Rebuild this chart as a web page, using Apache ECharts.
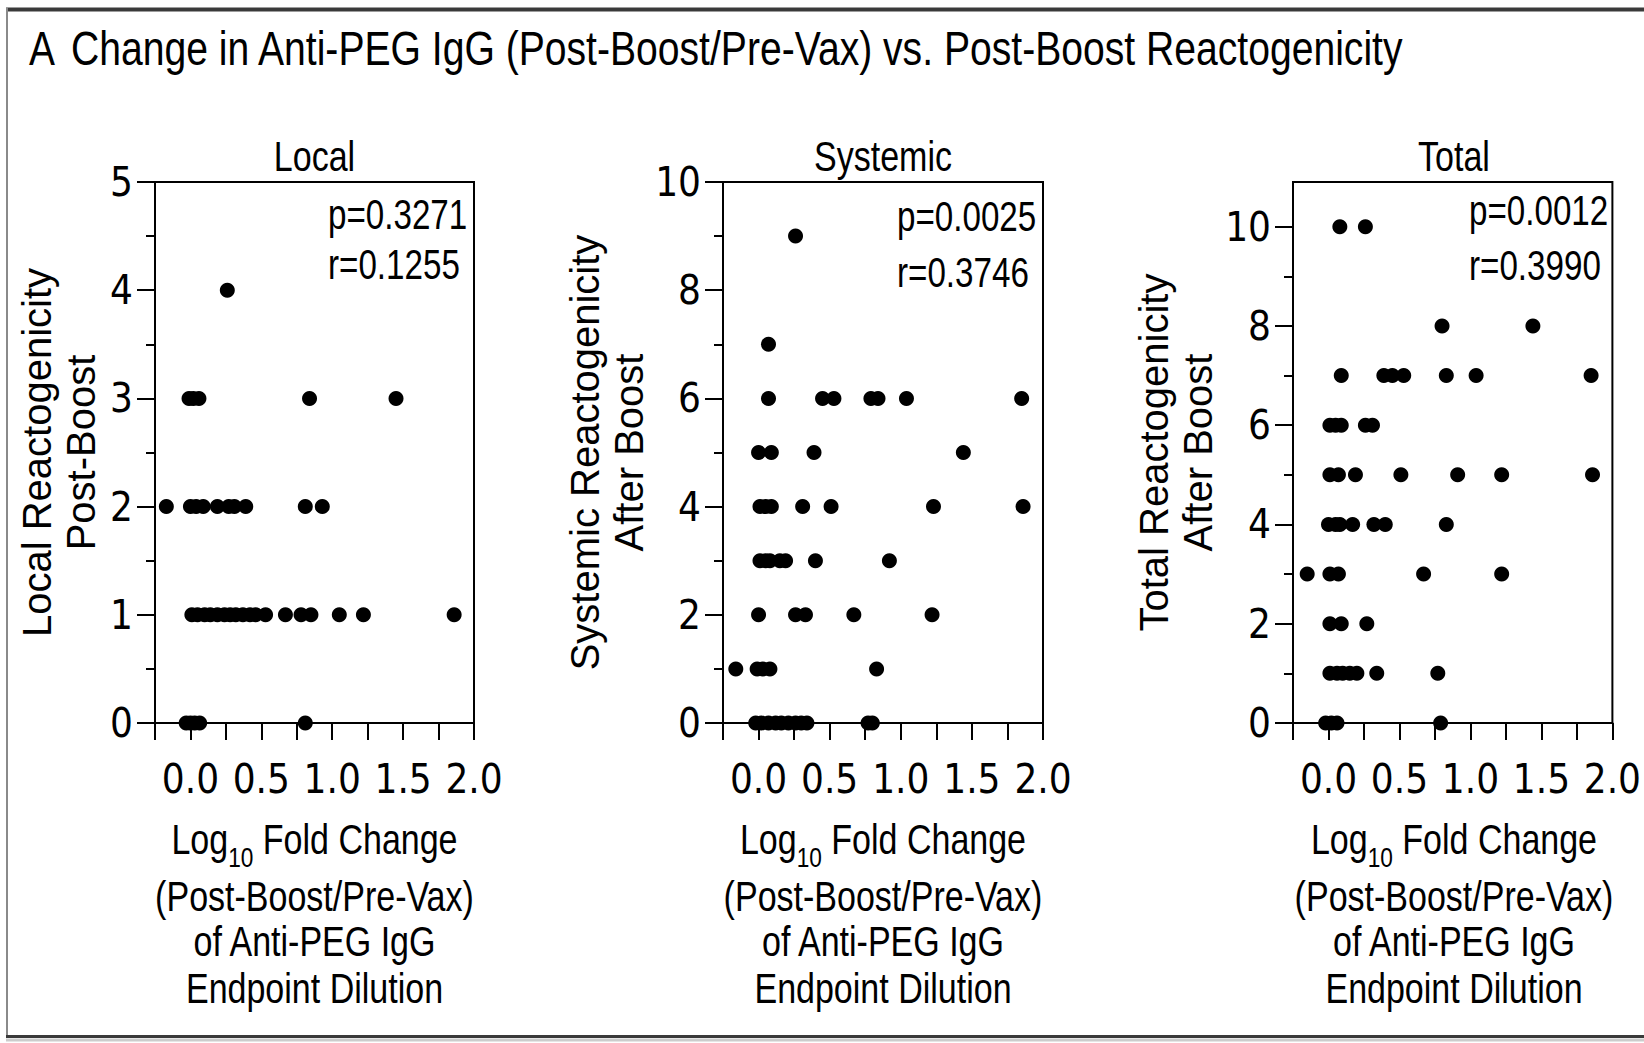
<!DOCTYPE html>
<html>
<head>
<meta charset="utf-8">
<script src="https://cdn.jsdelivr.net/npm/echarts@6/dist/echarts.min.js"></script>
<style>
html, body { margin: 0; padding: 0; background: #fff; }
#chart { width: 1644px; height: 1043px; }
</style>
</head>
<body>
<div id="chart"></div>
<script>
// ---------------- data ----------------
const figureLetter = 'A';
const figureTitle = 'Change in Anti-PEG IgG (Post-Boost/Pre-Vax) vs. Post-Boost Reactogenicity';
const panelTitles = ['Local', 'Systemic', 'Total'];
const yAxisNames = ['Local Reactogenicity\nPost-Boost', 'Systemic Reactogenicity\nAfter Boost', 'Total Reactogenicity\nAfter Boost'];
const xNameHead = 'Log';
const xNameSub = '10';
const xNameTail = ' Fold Change';
const xNameLines = ['(Post-Boost/Pre-Vax)', 'of Anti-PEG IgG', 'Endpoint Dilution'];
const pLabels = ['p=0.3271', 'p=0.0025', 'p=0.0012'];
const rLabels = ['r=0.1255', 'r=0.3746', 'r=0.3990'];

const xTickValues = [0, 0.5, 1, 1.5, 2];
const xTickLabels = ['0.0', '0.5', '1.0', '1.5', '2.0'];

const localYMax = 5;
const localYMajor = [0, 1, 2, 3, 4, 5];
const localYMinor = [0.5, 1.5, 2.5, 3.5, 4.5];
const systemicYMax = 10;
const systemicYMajor = [0, 2, 4, 6, 8, 10];
const systemicYMinor = [1, 3, 5, 7, 9];
const totalYMax = 10.9;
const totalYMajor = [0, 2, 4, 6, 8, 10];
const totalYMinor = [1, 3, 5, 7, 9];

// Local reactogenicity (x = log10 fold change, y = score)
const localX = [
  0.26,
  -0.01, 0.02, 0.06, 0.84, 1.45,
  -0.17, 0.00, 0.04, 0.09, 0.19, 0.27, 0.31, 0.39, 0.81, 0.93,
  0.01, 0.05, 0.10, 0.14, 0.19, 0.24, 0.28, 0.32, 0.37, 0.42, 0.46, 0.53, 0.67, 0.78, 0.85, 1.05, 1.22, 1.86,
  -0.03, 0.00, 0.03, 0.065, 0.81
];
const localY = [
  4,
  3, 3, 3, 3, 3,
  2, 2, 2, 2, 2, 2, 2, 2, 2, 2,
  1, 1, 1, 1, 1, 1, 1, 1, 1, 1, 1, 1, 1, 1, 1, 1, 1, 1,
  0, 0, 0, 0, 0
];

// Systemic reactogenicity
const systemicX = [
  0.26,
  0.07,
  0.07, 0.45, 0.53, 0.79, 0.84, 1.04, 1.85,
  0.00, 0.09, 0.39, 1.44,
  0.01, 0.05, 0.09, 0.31, 0.51, 1.23, 1.86,
  0.01, 0.05, 0.08, 0.15, 0.19, 0.40, 0.92,
  0.00, 0.26, 0.33, 0.67, 1.22,
  -0.16, -0.01, 0.03, 0.08, 0.83,
  -0.02, 0.02, 0.07, 0.12, 0.16, 0.21, 0.26, 0.30, 0.34, 0.77, 0.80
];
const systemicY = [
  9,
  7,
  6, 6, 6, 6, 6, 6, 6,
  5, 5, 5, 5,
  4, 4, 4, 4, 4, 4, 4,
  3, 3, 3, 3, 3, 3, 3,
  2, 2, 2, 2, 2,
  1, 1, 1, 1, 1,
  0, 0, 0, 0, 0, 0, 0, 0, 0, 0, 0
];

// Total reactogenicity
const totalX = [
  0.08, 0.26,
  0.80, 1.44,
  0.09, 0.39, 0.45, 0.53, 0.83, 1.04, 1.85,
  0.01, 0.05, 0.09, 0.26, 0.31,
  0.01, 0.07, 0.19, 0.51, 0.91, 1.22, 1.86,
  0.00, 0.05, 0.08, 0.17, 0.32, 0.40, 0.83,
  -0.15, 0.01, 0.07, 0.67, 1.22,
  0.01, 0.09, 0.27,
  0.01, 0.06, 0.10, 0.15, 0.20, 0.34, 0.77,
  -0.02, 0.02, 0.06, 0.79
];
const totalY = [
  10, 10,
  8, 8,
  7, 7, 7, 7, 7, 7, 7,
  6, 6, 6, 6, 6,
  5, 5, 5, 5, 5, 5, 5,
  4, 4, 4, 4, 4, 4, 4,
  3, 3, 3, 3, 3,
  2, 2, 2,
  1, 1, 1, 1, 1, 1, 1,
  0, 0, 0, 0
];

// ---------------- layout / style ----------------
const TICK_FONT = '"DejaVu Sans Condensed", "Liberation Sans Narrow", sans-serif';
const TEXT_FAMILY = '"Liberation Sans", Arial, sans-serif';
const NARROW = 0.81;          // horizontal squeeze of the figure's narrow typeface
const INK = '#000';
const gridBoxes = [
  { left: 155, width: 319 },
  { left: 723, width: 320 },
  { left: 1293, width: 322 }
];
const GRID_TOP = 182;
const GRID_H = 541;
const yNameGaps = [52, 71, 73];
const yLabelSets = [
  { max: localYMax, major: localYMajor, minor: localYMinor },
  { max: systemicYMax, major: systemicYMajor, minor: systemicYMinor },
  { max: totalYMax, major: totalYMajor, minor: totalYMinor }
];
const xs = [localX, systemicX, totalX];
const ys = [localY, systemicY, totalY];
const statY = [[215, 265], [217, 273], [211, 266]];
const xNameLineY = [839, 896, 941, 988];

const grids = gridBoxes.map(g => ({
  left: g.left, width: g.width, top: GRID_TOP, height: GRID_H,
  show: true, borderColor: INK, borderWidth: 2, backgroundColor: 'transparent',
  containLabel: false
}));

const xAxes = gridBoxes.map((g, i) => ({
  type: 'value', gridIndex: i, min: -0.25, max: 2, interval: 0.25,
  axisLine: { show: true, onZero: false, lineStyle: { color: INK, width: 2 } },
  axisTick: { show: true, length: 17, lineStyle: { color: INK, width: 2 } },
  axisLabel: {
    show: true, customValues: xTickValues, margin: 36,
    formatter: v => {
      const k = xTickValues.findIndex(t => Math.abs(t - v) < 1e-6);
      return k >= 0 ? xTickLabels[k] : '';
    },
    color: INK, fontFamily: TICK_FONT, fontSize: 40, lineHeight: 40
  },
  splitLine: { show: false }
}));

const yAxes = [];
yLabelSets.forEach((s, i) => {
  yAxes.push({
    type: 'value', gridIndex: i, position: 'left', min: 0, max: s.max,
    axisLine: { show: true, onZero: false, lineStyle: { color: INK, width: 2 } },
    axisTick: { show: true, customValues: s.major, length: 18, lineStyle: { color: INK, width: 2 } },
    axisLabel: { show: true, customValues: s.major, margin: 22, color: INK, fontFamily: TICK_FONT, fontSize: 40 },
    splitLine: { show: false },
    name: yAxisNames[i], nameLocation: 'middle', nameGap: yNameGaps[i],
    nameTextStyle: { color: INK, fontFamily: TEXT_FAMILY, fontSize: 40, lineHeight: 44 }
  });
  yAxes.push({
    type: 'value', gridIndex: i, position: 'left', min: 0, max: s.max,
    axisLine: { show: false, onZero: false },
    axisTick: { show: true, customValues: s.minor, length: 9, lineStyle: { color: INK, width: 2 } },
    axisLabel: { show: false },
    splitLine: { show: false }
  });
});

const series = xs.map((xArr, i) => ({
  type: 'scatter', xAxisIndex: i, yAxisIndex: 2 * i,
  data: xArr.map((x, k) => [x, ys[i][k]]),
  symbol: 'circle', symbolSize: 15,
  itemStyle: { color: INK, opacity: 1 },
  silent: true, animation: false
}));

// text helpers
const fontOf = size => size + 'px ' + TEXT_FAMILY;
const measureCtx = document.createElement('canvas').getContext('2d');
const measure = (text, size) => { measureCtx.font = fontOf(size); return measureCtx.measureText(text).width; };
const textEl = (text, x, y, align, size, sx) => ({
  type: 'text', x: x, y: y, scaleX: sx, silent: true,
  style: { text: text, fill: INK, font: fontOf(size), textAlign: align, textVerticalAlign: 'middle' }
});

const graphics = [
  // figure frame
  { type: 'line', silent: true, shape: { x1: 6, y1: 9.5, x2: 1644, y2: 9.5 }, style: { stroke: '#3a3a3a', lineWidth: 4 } },
  { type: 'line', silent: true, shape: { x1: 7, y1: 8, x2: 7, y2: 1037 }, style: { stroke: '#8a8a8a', lineWidth: 2 } },
  { type: 'line', silent: true, shape: { x1: 6, y1: 1036.5, x2: 1644, y2: 1036.5 }, style: { stroke: '#3a3a3a', lineWidth: 3 } },
  { type: 'line', silent: true, shape: { x1: 6, y1: 1040, x2: 1644, y2: 1040 }, style: { stroke: '#cccccc', lineWidth: 3 } },
  textEl(figureLetter, 29, 48, 'left', 48, NARROW),
  textEl(figureTitle, 71, 48, 'left', 48, 0.815)
];
const MAIN = 42, SUB = 28;
const wHead = measure(xNameHead, MAIN), wSub = measure(xNameSub, SUB), wTail = measure(xNameTail, MAIN);
gridBoxes.forEach((g, i) => {
  const cx = g.left + g.width / 2;
  graphics.push(textEl(panelTitles[i], cx, 156, 'center', 42, NARROW));
  graphics.push(textEl(pLabels[i], g.left + g.width - 146, statY[i][0], 'left', 42, 0.79));
  graphics.push(textEl(rLabels[i], g.left + g.width - 146, statY[i][1], 'left', 42, 0.79));
  // x-axis title: first line with subscript
  const total = (wHead + wSub + wTail) * NARROW;
  const x0 = cx - total / 2;
  graphics.push(textEl(xNameHead, x0, xNameLineY[0], 'left', MAIN, NARROW));
  graphics.push(textEl(xNameSub, x0 + wHead * NARROW, xNameLineY[0] + 18, 'left', SUB, NARROW));
  graphics.push(textEl(xNameTail, x0 + (wHead + wSub) * NARROW, xNameLineY[0], 'left', MAIN, NARROW));
  xNameLines.forEach((line, k) => {
    graphics.push(textEl(line, cx, xNameLineY[k + 1], 'center', MAIN, NARROW));
  });
});

const chart = echarts.init(document.getElementById('chart'), null, { renderer: 'svg', width: 1644, height: 1043 });
chart.setOption({
  backgroundColor: '#fff',
  animation: false,
  textStyle: { fontFamily: TEXT_FAMILY, color: INK },
  grid: grids,
  xAxis: xAxes,
  yAxis: yAxes,
  series: series,
  graphic: graphics
});
</script>
</body>
</html>
